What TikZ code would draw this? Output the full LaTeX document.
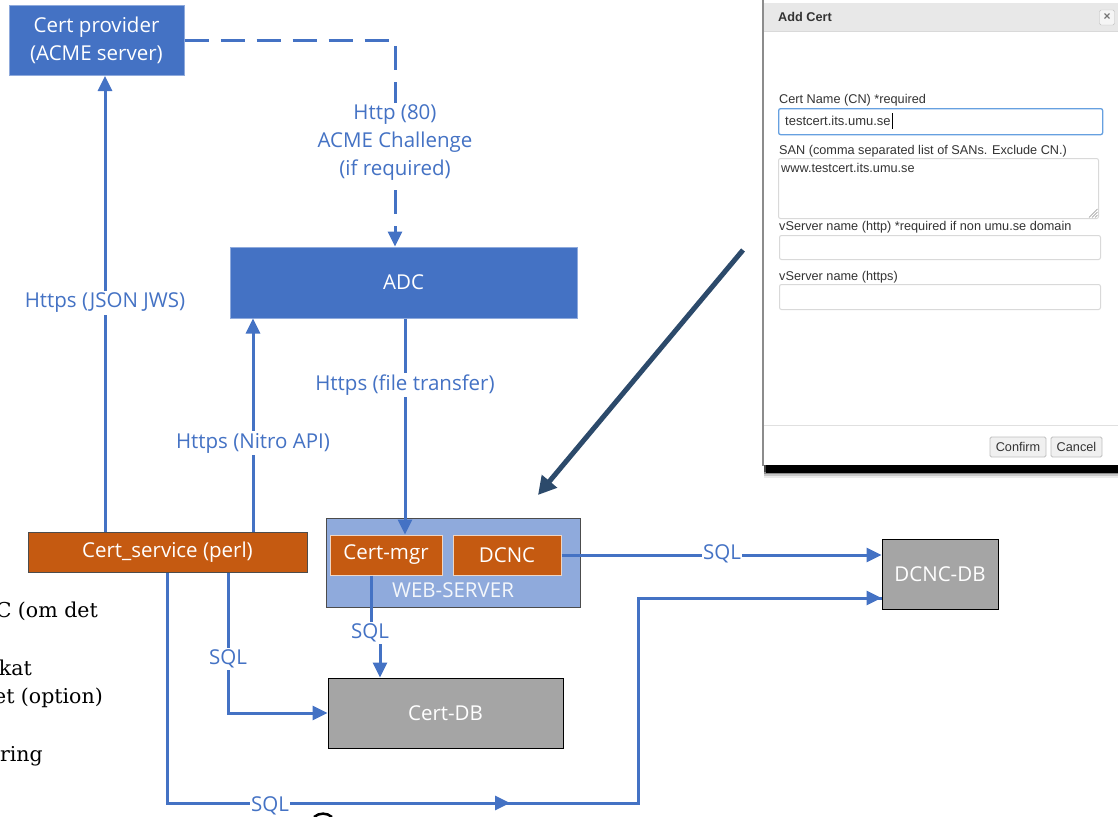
\documentclass[tikz,border=0pt]{standalone}
\usepackage{fontspec}
\setmainfont{Open Sans}
\newfontfamily\arialfont{Liberation Sans}
\newfontfamily\serifold{DejaVu Serif}
\usetikzlibrary{arrows.meta,calc}
\definecolor{msblue}{HTML}{4472C4}
\definecolor{msorange}{HTML}{C55A11}
\definecolor{mslight}{HTML}{8FAADC}
\definecolor{msgray}{HTML}{A5A5A5}
\definecolor{darkarrow}{HTML}{2C4A6B}
\definecolor{dlgtext}{HTML}{333333}
\definecolor{inputborder}{HTML}{66A0E0}
\tikzset{
  boxfont/.style={font=\fontsize{20.5}{28}\selectfont},
  bluebox/.style={draw=msblue!60!white, line width=1pt, fill=msblue, text=white, boxfont, inner sep=0pt, align=center},
  orangebox/.style={draw=black!70, line width=1pt, fill=msorange, text=white, boxfont, inner sep=0pt},
  innerbox/.style={draw=white!75!msorange, line width=1pt, fill=msorange, text=white, boxfont, inner sep=0pt},
  graybox/.style={draw=black, line width=1pt, fill=msgray, text=white, boxfont, inner sep=0pt},
  conn/.style={draw=msblue, line width=3pt},
  arr/.style={conn, -{Triangle[length=15pt,width=14pt]}},
  lbl/.style={fill=white, text=msblue, boxfont, inner sep=2pt, align=center},
  dlgfont/.style={font=\arialfont\fontsize{12.7}{14}\selectfont, text=dlgtext},
  field/.style={draw=black!15, line width=1pt, rounded corners=2pt, fill=white},
  btn/.style={draw=black!25, fill=black!6, line width=0.8pt, rounded corners=1.5pt, font=\arialfont\fontsize{12.7}{14}\selectfont, text=dlgtext, inner sep=0pt},
  serifline/.style={font=\serifold\fontsize{20.5}{23}\selectfont, text=black, anchor=base east, inner sep=0pt}
}
\begin{document}
\begin{tikzpicture}[x=1pt,y=-1pt]
\useasboundingbox (0,0) rectangle (1118,816);
\clip (0,0) rectangle (1118,816);

% boxes
\node[bluebox, minimum width=175pt, minimum height=70pt] (prov) at (96.5,40.5) {Cert provider\\(ACME server)};
\node[bluebox, minimum width=347pt, minimum height=71pt] (adc) at (403.5,282.5) {ADC};
\node[orangebox, minimum width=279pt, minimum height=40pt] (cs) at (167.5,552) {Cert\_service (perl)};
\node[draw=black!70, line width=1pt, fill=mslight, minimum width=254pt, minimum height=89pt] (ws) at (453,562.5) {};
\node[text=white!90!mslight, boxfont] (wslbl) at (453,590) {WEB-SERVER};
\node[innerbox, minimum width=112pt, minimum height=40pt] (cm) at (386,555) {Cert-mgr};
\node[innerbox, minimum width=108pt, minimum height=40pt] (dcnc) at (507,555) {DCNC};
\node[graybox, minimum width=235pt, minimum height=70pt] (cdb) at (445.5,713) {Cert-DB};
\node[graybox, minimum width=116pt, minimum height=70pt] (ddb) at (940,574) {DCNC-DB};

% helper coordinates
\coordinate (dx) at (395,0);
\coordinate (jx) at (105,0);
\coordinate (nx) at (253,0);
\coordinate (fx) at (405,0);
\coordinate (sx) at (228,0);
\coordinate (bx) at (167,0);
\coordinate (cmx) at (371,0);
\coordinate (cmx2) at (380,0);
\coordinate (bend) at (638,803);
\coordinate (ddbin) at (880,598);

% dashed ACME challenge
\draw[conn, dash pattern=on 24pt off 12pt, -{Triangle[length=15pt,width=14pt]}] (prov.east) -| (adc.north -| dx);
\node[lbl] at (395,143) {Http (80)\\ACME Challenge\\(if required)};

% Https JSON JWS
\draw[arr] (cs.north -| jx) -- (prov.south -| jx);
\node[lbl] at (105,303) {Https (JSON JWS)};
% Nitro API
\draw[arr] (cs.north -| nx) -- (adc.south -| nx);
\node[lbl] at (253,443) {Https (Nitro API)};
% file transfer
\draw[arr] (adc.south -| fx) -- (cm.north -| fx);
\node[lbl] at (405,385) {Https (file transfer)};

% SQL cert-mgr -> cert-db
\draw[arr] (cm.south -| cmx) -- ($(cm.south -| cmx)+(0,58)$) -| (cdb.north -| cmx2);
\node[lbl] at (370,633) {SQL};

% SQL cert_service -> cert-db
\draw[arr] (cs.south -| sx) |- (cdb.west);
\node[lbl] at (228,659) {SQL};

% SQL DCNC -> DCNC-DB
\draw[arr] (dcnc.east) -- (dcnc.east -| ddb.west);
\node[lbl, inner sep=1pt] at (722,554) {SQL};

% SQL cert_service -> DCNC-DB (bottom)
\draw[conn] (cs.south -| bx) |- (bend) |- (ddb.west |- ddbin);
\draw[arr] (490,803) -- (510,803);
\draw[arr] (860,598) -- (ddb.west |- ddbin);
\node[lbl, inner sep=1pt] at (270,806) {SQL};

% small black arc at bottom edge
\draw[line width=2.5pt] (314,817) .. controls (319,812.5) and (327,812.5) .. (332,817);

% left serif text fragments
\node[serifline] (t1) at (98,617) {C (om det};
\node[serifline] (t2) at (32,675) {kat};
\node[serifline] (t3) at (103,703) {et (option)};
\node[serifline] (t4) at (43,761) {ring};

% dark arrow
\coordinate (da1) at (743,250);
\coordinate (da2) at (538,495);
\draw[darkarrow, line width=5pt, -{Triangle[length=18pt,width=19pt]}] (da1) -- (da2);

% dialog shadow
\foreach \o/\op in {14/0.08,12/0.15,10/0.3,8/0.5} {
  \fill[black, opacity=\op] (764,464) rectangle (1118,464+\o);
}
\fill[black] (766,464) rectangle (1118,473);
% dialog body
\fill[white] (763,0) rectangle (1118,465);
\draw[black!45, line width=2pt] (763,0) -- (763,466);
\fill[black!9] (764,3) rectangle (1118,31);
\draw[black!15, line width=0.8pt] (764,31) -- (1118,31);
\node[dlgfont, font=\arialfont\bfseries\fontsize{12.7}{14}\selectfont, anchor=west, inner sep=0pt] (title) at (778,17) {Add Cert};
\node[draw=black!25, fill=black!4, rounded corners=1.5pt, minimum width=15pt, minimum height=15pt, inner sep=0pt, text=black!55, font=\arialfont\bfseries\fontsize{12}{12}\selectfont] (close) at (1107,17.5) {\texttimes};

% fields
\node[dlgfont, anchor=west, inner sep=0pt] (l1) at (779,100) {Cert Name (CN) *required};
\node[field, draw=inputborder, line width=1.3pt, minimum width=324pt, minimum height=26pt, anchor=north west] (f1) at (778,108) {};
\node[dlgfont, font=\arialfont\fontsize{13}{14}\selectfont, anchor=west, inner sep=0pt] (v1) at (785,121) {testcert.its.umu.se};
\draw[black, line width=0.7pt] ([xshift=1pt]v1.east |- 0,113) -- ([xshift=1pt]v1.east |- 0,129);

\node[dlgfont, anchor=west, inner sep=0pt] (l2) at (779,151) {SAN (comma separated list of SANs. Exclude CN.)};
\node[field, minimum width=320pt, minimum height=60pt, anchor=north west] (f2) at (778,158) {};
\node[dlgfont, anchor=west, inner sep=0pt] (v2) at (781,168) {www.testcert.its.umu.se};
\foreach \d in {3,6,9} {\draw[black!45, line width=0.6pt] ($(f2.south east)+(-\d-1,-1.5)$) -- ($(f2.south east)+(-1.5,-\d-1)$);}

\node[dlgfont, anchor=west, inner sep=0pt] (l3) at (779,227) {vServer name (http) *required if non umu.se domain};
\node[field, minimum width=321pt, minimum height=24pt, anchor=north west] (f3) at (779,235) {};
\node[dlgfont, anchor=west, inner sep=0pt] (l4) at (779,277) {vServer name (https)};
\node[field, minimum width=321pt, minimum height=25pt, anchor=north west] (f4) at (779,284) {};

% footer
\draw[black!12, line width=1pt] (764,425) -- (1118,425);
\node[btn, minimum width=56pt, minimum height=20pt] (confirm) at (1018,447) {Confirm};
\node[btn, minimum width=51pt, minimum height=20pt] (cancel) at (1076.5,447) {Cancel};
\end{tikzpicture}
\end{document}
